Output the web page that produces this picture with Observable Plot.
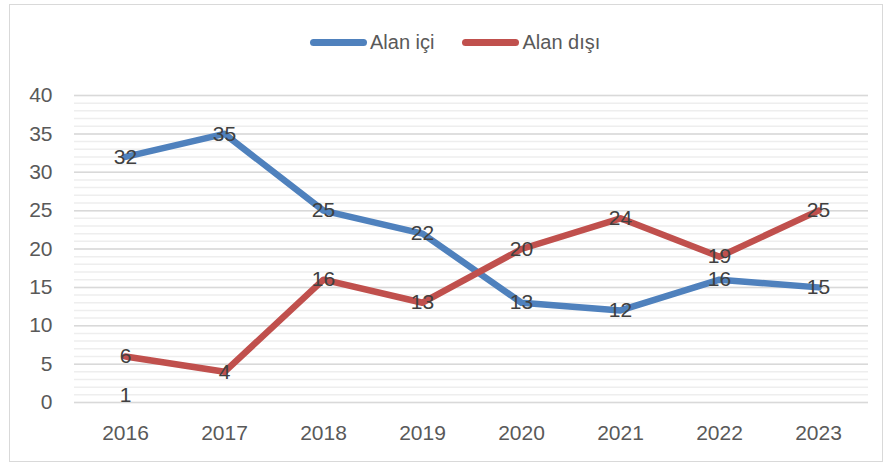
<!DOCTYPE html>
<html><head><meta charset="utf-8">
<script src="https://cdn.jsdelivr.net/npm/d3@7"></script>
<script src="https://cdn.jsdelivr.net/npm/@observablehq/plot@0.6"></script>
<style>
body{margin:0;background:#fff;}
#wrap{position:relative;width:883px;height:464px;font-family:"Liberation Sans",Arial,sans-serif;overflow:hidden;}
#frame{position:absolute;left:9px;top:4px;width:872px;height:456px;border:1.5px solid #d9d9d9;pointer-events:none;}
#legend{position:absolute;top:31px;left:310px;display:flex;align-items:center;font-size:20px;color:#595959;white-space:nowrap;}
#legend .item{display:flex;align-items:center;margin-right:28px;}
#legend .sw{width:57px;height:7px;border-radius:4px;margin-right:3px;}
#chart{position:absolute;left:0;top:0;}
</style></head>
<body>
<div id="wrap"><div id="chart"></div><div id="legend"></div><div id="frame"></div></div>
<script>
const years = ["2016","2017","2018","2019","2020","2021","2022","2023"];
const alanIci = [32,35,25,22,13,12,16,15];
const alanDisi = [6,4,16,13,20,24,19,25];
const seriesNames = ["Alan içi","Alan dışı"];
const seriesColors = ["#4f81bd","#c0504d"];
const strayLabelYears = ["2016"];
const strayLabelValues = [1];
const yTicks = [0,5,10,15,20,25,30,35,40];
const yMinor = d3.range(0,41);

const data = [];
years.forEach((y,i)=>data.push({year:y,value:alanIci[i],series:seriesNames[0]}));
years.forEach((y,i)=>data.push({year:y,value:alanDisi[i],series:seriesNames[1]}));
const stray = strayLabelYears.map((y,i)=>({year:y,value:strayLabelValues[i]}));

const font = '"Liberation Sans",Arial,sans-serif';
const chart = Plot.plot({
  width:883, height:464,
  marginLeft:74, marginRight:15, marginTop:95, marginBottom:62,
  style:{fontFamily:font, fontSize:"21px", color:"#595959", background:"transparent"},
  x:{type:"point", domain:years, padding:0.5, label:null},
  y:{domain:[0,40], label:null},
  color:{domain:seriesNames, range:seriesColors},
  marks:[
    Plot.ruleY(yMinor,{stroke:"#eeeeee", strokeWidth:1.5}),
    Plot.ruleY(yTicks,{stroke:"#d9d9d9", strokeWidth:1.5}),
    Plot.lineY(data,{x:"year", y:"value", stroke:"series", z:"series", strokeWidth:6.5, strokeLinejoin:"round", strokeLinecap:"round"}),
    Plot.text(data,{x:"year", y:"value", text:d=>String(d.value), fill:"#404040", fontSize:21}),
    Plot.text(stray,{x:"year", y:"value", text:d=>String(d.value), fill:"#404040", fontSize:21}),
    Plot.axisX({tickSize:0, tickPadding:23, fontSize:21, fill:"#595959", label:null}),
    Plot.axisY({ticks:yTicks, tickSize:0, tickPadding:22, fontSize:21, fill:"#595959", label:null})
  ]
});
document.getElementById("chart").appendChild(chart);

const leg = document.getElementById("legend");
seriesNames.forEach((n,i)=>{
  const it = document.createElement("div"); it.className="item";
  const sw = document.createElement("div"); sw.className="sw"; sw.style.background=seriesColors[i];
  const tx = document.createElement("span"); tx.textContent=n;
  it.appendChild(sw); it.appendChild(tx); leg.appendChild(it);
});
</script>
</body></html>
